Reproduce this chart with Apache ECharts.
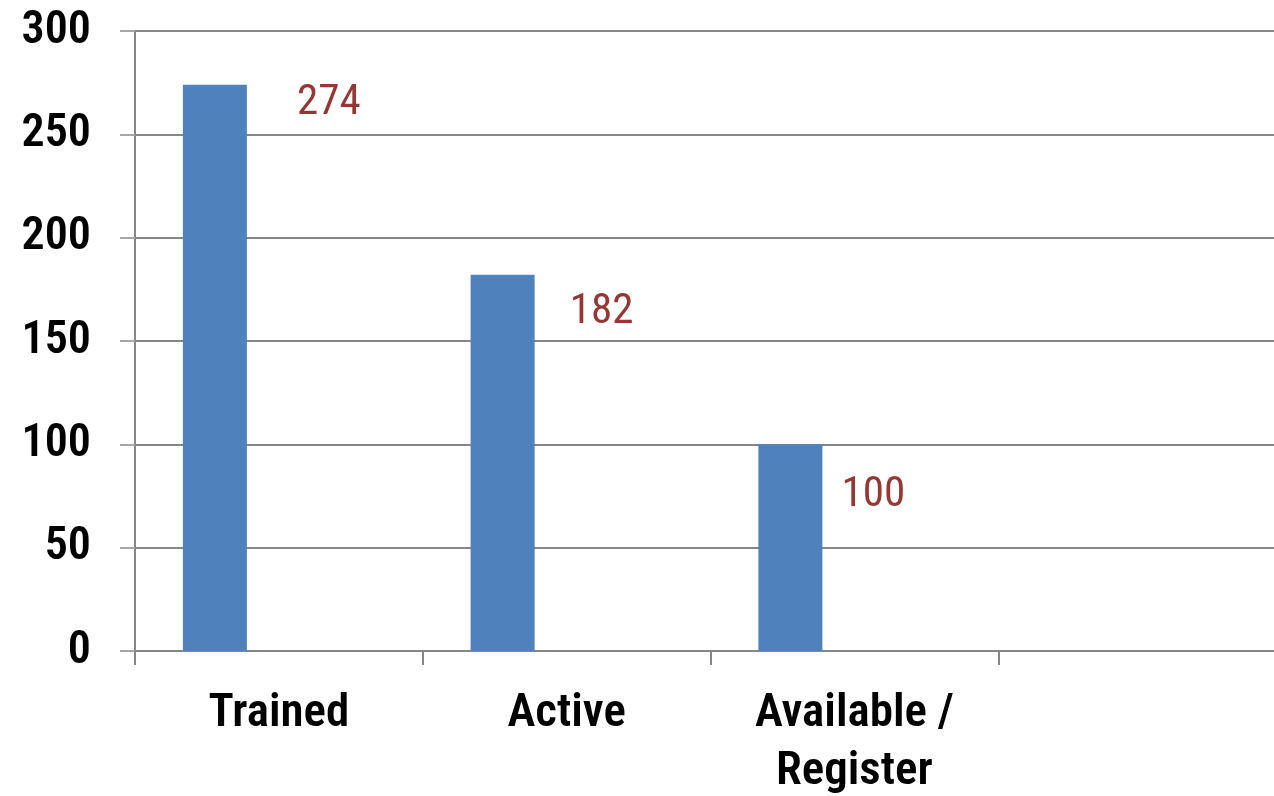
<!DOCTYPE html>
<html>
<head>
<meta charset="utf-8">
<script src="https://cdn.jsdelivr.net/npm/echarts@6/dist/echarts.min.js"></script>
<style>
  html, body { margin: 0; padding: 0; background: #fff; }
  #chart { width: 1274px; height: 796px; }
</style>
</head>
<body>
<div id="chart"></div>
<script>
// ---- data ----
const categories = ['Trained', 'Active', 'Available /\nRegister', ''];
const counts = [274, 182, 100, null];
const yTicks = { min: 0, max: 300, interval: 50 };

// ---- layout / style constants (not data) ----
const FONT = "'Roboto Condensed', 'Archivo Narrow', 'Open Sans Condensed', sans-serif";
const labelPlacement = [[146, 19], [131, 37], [115, 51], [0, 0]];

const chart = echarts.init(document.getElementById('chart'), null, { renderer: 'canvas' });

const seriesData = counts.map((v, i) => ({
  value: v,
  label: { position: labelPlacement[i] }
}));

chart.setOption({
  animation: false,
  backgroundColor: '#ffffff',
  grid: {
    left: 135, top: 31, width: 1151, height: 620,
    containLabel: false,
    outerBoundsMode: 'none'
  },
  xAxis: {
    type: 'category',
    data: categories,
    boundaryGap: true,
    axisLine: { show: true, lineStyle: { color: '#868686', width: 2 } },
    axisTick: { show: true, length: 14, inside: false, alignWithLabel: false, lineStyle: { color: '#868686', width: 2 } },
    axisLabel: {
      interval: 0,
      margin: 34,
      color: '#000',
      fontFamily: FONT,
      fontWeight: 600,
      fontSize: 47,
      lineHeight: 58,
      align: 'center'
    },
    splitLine: { show: false }
  },
  yAxis: {
    type: 'value',
    min: yTicks.min,
    max: yTicks.max,
    interval: yTicks.interval,
    axisLine: { show: true, lineStyle: { color: '#868686', width: 2 } },
    axisTick: { show: true, length: 15, lineStyle: { color: '#a6a6a6', width: 2 } },
    axisLabel: {
      margin: 44,
      color: '#000',
      fontFamily: FONT,
      fontWeight: 600,
      fontSize: 46
    },
    splitLine: { show: true, lineStyle: { color: '#868686', width: 2 } }
  },
  series: [
    {
      type: 'bar',
      name: 'Count',
      data: seriesData,
      barWidth: 64,
      barGap: '0%',
      itemStyle: { color: '#4F81BD' },
      label: {
        show: true,
        align: 'center',
        verticalAlign: 'middle',
        color: '#953735',
        fontFamily: FONT,
        fontSize: 43
      }
    },
    { type: 'bar', name: 'spacer1', data: counts.map(() => null), barWidth: 64, barGap: '0%' },
    { type: 'bar', name: 'spacer2', data: counts.map(() => null), barWidth: 64, barGap: '0%' }
  ]
});
</script>
</body>
</html>
